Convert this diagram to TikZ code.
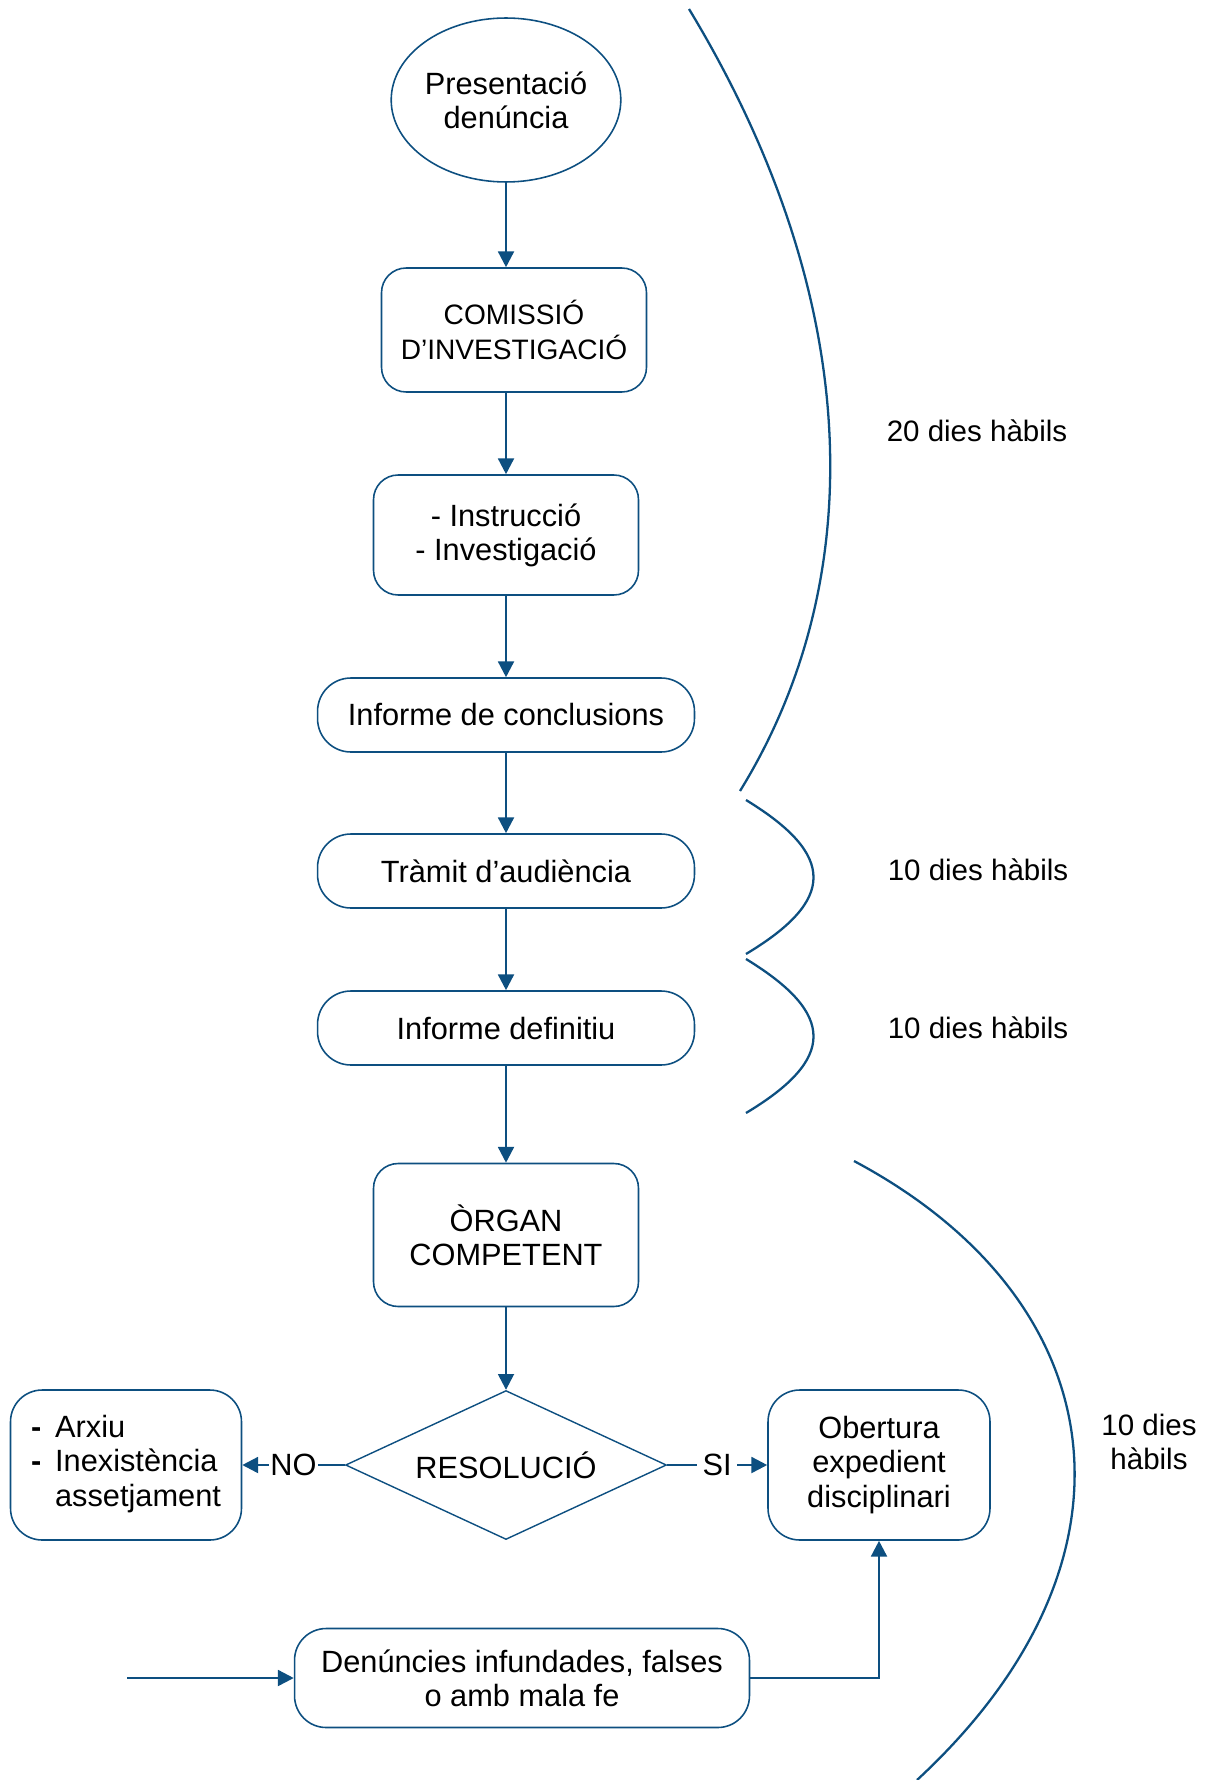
\documentclass[tikz,border=0pt]{standalone}
\usepackage{fontspec}
\setmainfont{Liberation Sans}
\usetikzlibrary{shapes.geometric,arrows.meta}
\definecolor{flowblue}{HTML}{0D4F80}

\begin{document}
\begin{tikzpicture}[x=0.02cm,y=-0.02cm,
  txt/.style={font=\fontsize{17.5}{19.5}\selectfont,align=center},
  box/.style={txt,draw=flowblue,line width=0.9pt,rounded corners=14pt,inner sep=2pt},
  pill/.style={box,rounded corners=19pt,minimum width=7.54cm,minimum height=1.48cm},
  arr/.style={draw=flowblue,line width=1.4pt,-{Triangle[width=9pt,length=9pt]}},
  span/.style={draw=flowblue,line width=1.3pt},
  days/.style={font=\fontsize{16.8}{19.5}\selectfont,align=center}]
\useasboundingbox (0,0) rectangle (1207,1780);
%
\node[txt,draw=flowblue,line width=0.9pt,ellipse,minimum width=4.56cm,minimum height=3.28cm,inner sep=0pt] (pres) at (506,100) {Presentació\\denúncia};
\node[box,font=\fontsize{16}{19.5}\selectfont,minimum width=5.3cm,minimum height=2.48cm] (comis) at (514,330) {COMISSIÓ\\D’INVESTIGACIÓ};
\node[box,minimum width=5.3cm,minimum height=2.4cm] (instr) at (506,535) {- Instrucció\\- Investigació};
\node[pill] (concl) at (506,715) {Informe de conclusions};
\node[pill] (tramit) at (506,871) {Tràmit d’audiència};
\node[pill] (defin) at (506,1028) {Informe definitiu};
\node[box,minimum width=5.3cm,minimum height=2.86cm] (organ) at (506,1235) {ÒRGAN\\COMPETENT};
\node[txt,draw=flowblue,line width=0.8pt,diamond,aspect=2,minimum width=6.42cm,minimum height=2.98cm,inner sep=0pt] (resol) at (506,1465) {RESOLUCIÓ};
\node[box,rounded corners=18pt,minimum width=4.62cm,minimum height=3cm] (arxiu) at (126,1465)
  {\begin{tabular}{@{}l@{\hspace{0.45em}}l@{}}\textbf{-} & Arxiu\\ \textbf{-} & Inexistència\\ & assetjament\end{tabular}};
\node[box,rounded corners=18pt,minimum width=4.44cm,minimum height=3cm] (obert) at (879,1465) {Obertura\\expedient\\disciplinari};
\node[box,rounded corners=18pt,minimum width=9.1cm,minimum height=1.98cm] (denun) at (522,1678) {Denúncies infundades, falses\\o amb mala fe};
\coordinate (entry) at (127,1678);
%
\draw[arr] (pres.south) -- (pres.south |- comis.north);
\draw[arr] (instr.north |- comis.south) -- (instr);
\draw[arr] (instr) -- (concl);
\draw[arr] (concl) -- (tramit);
\draw[arr] (tramit) -- (defin);
\draw[arr] (defin) -- (organ);
\draw[arr] (organ) -- (resol);
\draw[arr] (resol.west) -- node[txt,fill=white,inner sep=1pt] {NO} (arxiu.east);
\draw[arr] (resol.east) -- node[txt,fill=white,inner sep=3pt] {SI} (obert.west);
\draw[arr] (entry) -- (denun.west);
\draw[arr] (denun.east) -| (obert.south);
%
\draw[span] (689,9) .. controls (865,300) and (870,580) .. (740,791);
\draw[span] (746,800) .. controls (836,855) and (836,900) .. (746,954);
\draw[span] (746,959) .. controls (836,1014) and (836,1059) .. (746,1113);
\draw[span] (854,1161) .. controls (1115,1300) and (1155,1560) .. (917,1780);
%
\node[days] (d20) at (977,431) {20 dies hàbils};
\node[days] (d10a) at (978,870) {10 dies hàbils};
\node[days] (d10b) at (978,1028) {10 dies hàbils};
\node[days] (d10c) at (1149,1442) {10 dies\\hàbils};
\end{tikzpicture}
\end{document}
